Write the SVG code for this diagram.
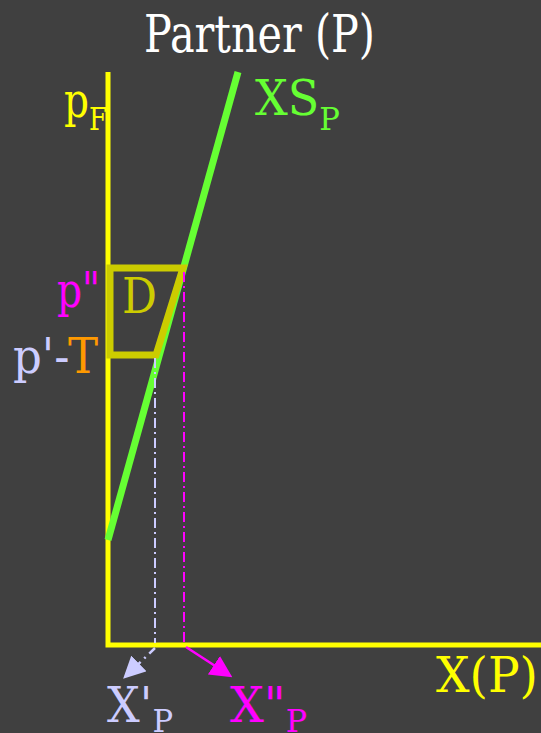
<svg xmlns="http://www.w3.org/2000/svg" width="541" height="733" viewBox="0 0 541 733">
<defs>
<style>
.t{font-family:'DejaVu Serif','Liberation Serif',serif}
.big{font-size:48px}
.sub{font-size:32px}
</style>
<marker id="mag" markerWidth="22" markerHeight="22" refX="18" refY="11" orient="auto" markerUnits="userSpaceOnUse" viewBox="0 0 22 22"><path d="M0,0 L22,11 L0,22 z" fill="#ff00ff"/></marker>
<marker id="lav" markerWidth="22" markerHeight="22" refX="18" refY="11" orient="auto" markerUnits="userSpaceOnUse" viewBox="0 0 22 22"><path d="M0,0 L22,11 L0,22 z" fill="#ccccff"/></marker>
</defs>
<rect width="541" height="733" fill="#404040"/>
<g id="axes">
<polyline points="108,72 108,645 541,645" fill="none" stroke="#ffff00" stroke-width="5"/>
</g>
<g id="supply">
<line x1="108" y1="540" x2="238" y2="72" stroke="#66ff33" stroke-width="7"/>
</g>
<g id="trapezoid">
<polygon points="110,268 183,268 156,355 110,355" fill="none" stroke="#cccc00" stroke-width="7"/>
</g>
<g id="connectors">
<line x1="184" y1="272" x2="184" y2="643" stroke="#ff00ff" stroke-width="2" stroke-dasharray="10,4,2,4"/>
<line x1="155" y1="358" x2="155" y2="643" stroke="#ccccff" stroke-width="2" stroke-dasharray="10,4,2,4"/>
<line x1="186" y1="647" x2="229" y2="675" stroke="#ff00ff" stroke-width="2.5" marker-end="url(#mag)"/>
<line x1="155" y1="648" x2="126" y2="676" stroke="#ccccff" stroke-width="2.5" stroke-dasharray="8,5,2,5" marker-end="url(#lav)"/>
</g>
<g id="labels" class="t">
<text x="144" y="52" font-size="52" fill="#ffffff" textLength="231" lengthAdjust="spacingAndGlyphs">Partner (P)</text>
<text x="64" y="117" class="big" fill="#ffff00" textLength="43" lengthAdjust="spacingAndGlyphs">p<tspan class="sub" dy="13">F</tspan></text>
<text x="255" y="115" class="big" fill="#66ff33" textLength="85" lengthAdjust="spacingAndGlyphs">XS<tspan class="sub" dy="15">P</tspan></text>
<text x="57" y="307" class="big" fill="#ff00ff" textLength="43" lengthAdjust="spacingAndGlyphs">p"</text>
<text x="122" y="313" class="big" fill="#cccc00" textLength="35" lengthAdjust="spacingAndGlyphs">D</text>
<text x="13" y="373" class="big" fill="#ccccff" textLength="85" lengthAdjust="spacingAndGlyphs">p'-<tspan fill="#ff9900">T</tspan></text>
<text x="436" y="692" class="big" fill="#ffff00" textLength="102" lengthAdjust="spacingAndGlyphs">X(P)</text>
<text x="107" y="722" class="big" fill="#ccccff" textLength="66" lengthAdjust="spacingAndGlyphs">X'<tspan class="sub" dy="10">P</tspan></text>
<text x="230" y="722" class="big" fill="#ff00ff" textLength="77" lengthAdjust="spacingAndGlyphs">X"<tspan class="sub" dy="10">P</tspan></text>
</g>
</svg>
